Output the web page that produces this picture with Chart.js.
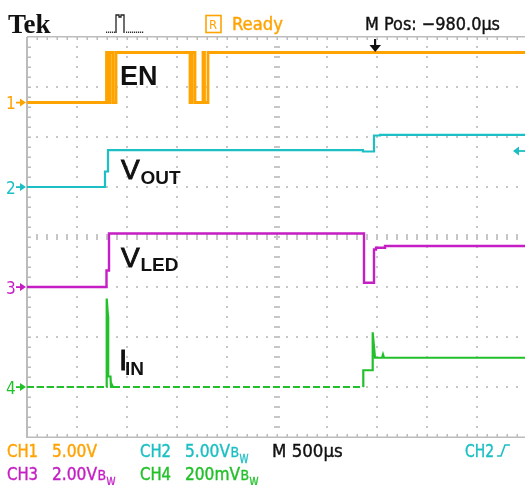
<!DOCTYPE html>
<html><head><meta charset="utf-8">
<script src="https://cdn.jsdelivr.net/npm/chart.js@4.4.1/dist/chart.umd.min.js"></script>
<style>html,body{margin:0;padding:0;background:#fff;overflow:hidden}</style>
</head><body>
<canvas id="c" width="525" height="485"></canvas>
<script>
// Time axis: ms from the left edge of the screen (500 µs/div, 10 div)
const ch1Time = [0, 0.795, 0.795, 0.815, 0.815, 0.83, 0.83, 0.86, 0.86, 0.89, 0.89, 1.63, 1.63, 1.65, 1.65, 1.68, 1.68, 1.76, 1.76, 1.775, 1.775, 1.81, 1.81, 4.98];
const ch1Volt = [0, 0, 5, 5, 0, 0, 5, 5, 0, 0, 5, 5, 0, 0, 5, 5, 0, 0, 5, 5, 0, 0, 5, 5];
const ch2Time = [0, 0.78, 0.78, 0.81, 0.81, 3.36, 3.36, 3.47, 3.47, 3.53, 3.53, 4.98];
const ch2Volt = [0, 0, 1.55, 1.55, 3.68, 3.68, 3.55, 3.55, 5.15, 5.15, 5.22, 5.22];
const ch3Time = [0, 0.795, 0.795, 0.82, 0.82, 3.37, 3.37, 3.47, 3.47, 3.49, 3.49, 3.58, 3.58, 4.98];
const ch3Volt = [0, 0, 0.66, 0.66, 2.14, 2.14, 0.17, 0.17, 1.5, 1.5, 1.57, 1.57, 1.64, 1.64];
const ch4Time = [0, 0.795, 0.797, 0.81, 0.812, 0.835, 0.84, 0.85, 0.86, 3.363, 3.363, 3.457, 3.457, 3.48, 3.55, 3.56, 3.57, 4.98];
const ch4MilliVolt = [0, 0, 354, 283, 42, 42, 0, 8, 0, 0, 67, 67, 219, 117, 117, 130, 117, 117];

const channelNames = ['CH1', 'CH2', 'CH3', 'CH4'];
const channelScaleText = ['5.00V', '5.00V', '2.00V', '200mV'];
const channelBandwidth = [false, true, true, true];
const traceLabels = [['EN', ''], ['V', 'OUT'], ['V', 'LED'], ['I', 'IN']];
const timebaseText = 'M 500\u00b5s';
const positionText = 'M Pos: \u2212980.0\u00b5s';
const statusText = 'Ready';

const COLORS = ['#ffa300', '#1cbfc3', '#c41ec4', '#22c02a'];

const zip = (t, v) => t.map((x, i) => ({x, y: v[i]}));

const NARROW = '"Liberation Sans Narrow", "DejaVu Sans Condensed", "Liberation Sans", sans-serif';
const SANS = '"Liberation Sans", Arial, sans-serif';

function txt(ctx, s, x, y, color, font, maxW, stroke) {
  ctx.font = font; ctx.fillStyle = color; ctx.textBaseline = 'alphabetic'; ctx.textAlign = 'left';
  if (maxW) ctx.fillText(s, x, y, maxW); else ctx.fillText(s, x, y);
  if (stroke) {
    ctx.strokeStyle = color; ctx.lineWidth = stroke;
    if (maxW) ctx.strokeText(s, x, y, maxW); else ctx.strokeText(s, x, y);
  }
}

const graticule = {
  id: 'graticule',
  beforeDatasetsDraw(chart) {
    const {ctx, chartArea: a, scales: {x, yDiv}} = chart;
    ctx.save();
    ctx.fillStyle = '#c6c6c6';
    const xp = d => x.getPixelForValue(d * 0.5);
    const yp = d => yDiv.getPixelForValue(d);
    for (let i = 1; i < 10; i++) {
      if (i === 5) continue;
      const px = Math.round(xp(i));
      for (let k = 1; k < 40; k++) ctx.fillRect(px - 1, Math.round(yp(-4 + k * 0.2)) - 1, 2, 2);
    }
    for (let j = -3; j <= 3; j++) {
      if (j === 0) continue;
      const py = Math.round(yp(j));
      for (let k = 1; k < 50; k++) ctx.fillRect(Math.round(xp(k * 0.2)) - 1, py - 1, 2, 2);
    }
    const cy = Math.round(yp(0));
    for (let k = 1; k < 50; k++) ctx.fillRect(Math.round(xp(k * 0.2)) - 1, cy - 3, 2, 6);
    const cx = Math.round(xp(5));
    for (let k = 1; k < 40; k++) ctx.fillRect(cx - 3, Math.round(yp(-4 + k * 0.2)) - 1, 6, 2);
    ctx.fillStyle = '#bcbcbc';
    ctx.fillRect(a.left - 1, a.top, 2, a.height + 1);
    ctx.fillRect(a.left, a.top - 1, a.width, 1.5);
    ctx.fillRect(a.left, a.bottom - 0.5, a.width, 1.5);
    for (let k = 1; k < 50; k++) {
      const px = Math.round(xp(k * 0.2));
      ctx.fillRect(px - 0.5, a.top, 1.5, 3);
      ctx.fillRect(px - 0.5, a.bottom - 3, 1.5, 3);
    }
    for (let k = 1; k < 40; k++) {
      const py = Math.round(yp(-4 + k * 0.2));
      ctx.fillRect(a.left, py - 0.5, 4, 1.5);
    }
    ctx.restore();
  }
};

const overlay = {
  id: 'overlay',
  afterDatasetsDraw(chart) {
    const {ctx, scales} = chart;
    ctx.save();
    txt(ctx, 'Tek', 8, 33, '#111', 'bold 27px "Liberation Serif", serif');
    ctx.strokeStyle = '#222'; ctx.lineWidth = 1.3;
    ctx.beginPath();
    ctx.moveTo(116, 33); ctx.lineTo(116, 15); ctx.lineTo(119, 15); ctx.lineTo(119, 17); ctx.lineTo(121, 17); ctx.lineTo(121, 15); ctx.lineTo(124, 15); ctx.lineTo(124, 33);
    ctx.stroke();
    ctx.fillStyle = '#333';
    for (let k = 106; k < 115; k += 2) ctx.fillRect(k, 31.5, 1.2, 1.5);
    for (let k = 126; k < 143; k += 2) ctx.fillRect(k, 31.5, 1.2, 1.5);
    ctx.strokeStyle = COLORS[0]; ctx.lineWidth = 1.6;
    ctx.strokeRect(206, 15.5, 15, 17);
    txt(ctx, 'R', 209, 29, COLORS[0], '13px ' + NARROW);
    txt(ctx, statusText, 232, 29.5, COLORS[0], '18.5px ' + NARROW, 51, 0.4);
    txt(ctx, positionText, 365, 29.5, '#111', '18.5px ' + NARROW, 135, 0.4);
    const tx = 375;
    ctx.fillStyle = '#111';
    ctx.fillRect(tx - 1, 39, 2.2, 8);
    ctx.beginPath(); ctx.moveTo(tx - 5.5, 45); ctx.lineTo(tx + 6, 45); ctx.lineTo(tx + 0.2, 52); ctx.closePath(); ctx.fill();

    ['y1', 'y2', 'y3', 'y4'].forEach((id, i) => {
      const py = scales[id].getPixelForValue(0);
      txt(ctx, String(i + 1), 6, py + 6.5, COLORS[i], '17px ' + NARROW);
      ctx.fillStyle = COLORS[i];
      ctx.fillRect(16, py - 0.8, 6, 1.8);
      ctx.beginPath(); ctx.moveTo(20, py - 4); ctx.lineTo(26, py); ctx.lineTo(20, py + 4); ctx.closePath(); ctx.fill();
    });
    {
      const py = scales.y2.getPixelForValue(3.6);
      ctx.fillStyle = COLORS[1];
      ctx.beginPath(); ctx.moveTo(513, py); ctx.lineTo(519, py - 4.5); ctx.lineTo(519, py + 4.5); ctx.closePath(); ctx.fill();
      ctx.fillRect(518, py - 0.9, 7, 1.8);
    }

    txt(ctx, traceLabels[0][0], 120, 85, '#111', 'bold 27px ' + SANS);
    const lbl = (i, baseMain, baseSub, xMain, xSub, sizeMain) => {
      txt(ctx, traceLabels[i][0], xMain, baseMain, '#111', sizeMain + 'px ' + SANS, 0, 0.9);
      txt(ctx, traceLabels[i][1], xSub, baseSub, '#111', 'bold 19px ' + SANS);
    };
    lbl(1, 178.5, 183.5, 121, 140.5, 28);
    lbl(2, 267, 270.5, 121, 140.5, 28);
    lbl(3, 370, 375, 119, 125, 30);

    const rows = [457, 480];
    const colX = [[7, 52], [140, 185], [7, 52], [140, 185]];
    const scaleW = [45, 45, 45, 55];
    for (let i = 0; i < 4; i++) {
      const base = rows[i < 2 ? 0 : 1];
      txt(ctx, channelNames[i], colX[i][0], base, COLORS[i], '18.5px ' + NARROW, 31, 0.4);
      txt(ctx, channelScaleText[i], colX[i][1], base, COLORS[i], '18.5px ' + NARROW, scaleW[i], 0.4);
      if (channelBandwidth[i]) {
        const bx = colX[i][1] + scaleW[i] + 0.5;
        txt(ctx, 'B', bx, base, COLORS[i], '14px ' + NARROW, 9, 0.3);
        txt(ctx, 'W', bx + 9, base + 6, COLORS[i], '12px ' + NARROW, 9, 0.3);
      }
    }
    txt(ctx, timebaseText, 272, 457, '#111', '18.5px ' + NARROW, 73, 0.4);
    txt(ctx, channelNames[1], 465, 457, COLORS[1], '18.5px ' + NARROW, 29, 0.4);
    ctx.strokeStyle = COLORS[1]; ctx.lineWidth = 1.6;
    ctx.beginPath(); ctx.moveTo(497, 456); ctx.lineTo(501, 456); ctx.lineTo(505, 445); ctx.lineTo(510, 445); ctx.stroke();
    ctx.restore();
  }
};

const groundDash = c => (c.p0.parsed.y === 0 && c.p1.parsed.y === 0) ? [7, 3] : undefined;

new Chart(document.getElementById('c'), {
  type: 'line',
  data: {
    datasets: [
      {label: 'EN (CH1)', data: zip(ch1Time, ch1Volt), yAxisID: 'y1', borderColor: COLORS[0], borderWidth: 2.8},
      {label: 'VOUT (CH2)', data: zip(ch2Time, ch2Volt), yAxisID: 'y2', borderColor: COLORS[1], borderWidth: 2.2},
      {label: 'VLED (CH3)', data: zip(ch3Time, ch3Volt), yAxisID: 'y3', borderColor: COLORS[2], borderWidth: 2.4},
      {label: 'IIN (CH4)', data: zip(ch4Time, ch4MilliVolt), yAxisID: 'y4', borderColor: COLORS[3], borderWidth: 2.2, segment: {borderDash: groundDash}}
    ]
  },
  options: {
    responsive: false,
    animation: false,
    events: [],
    layout: {padding: {left: 27, top: 37, right: 0, bottom: 48}},
    plugins: {legend: {display: false}, tooltip: {enabled: false}},
    elements: {point: {radius: 0}, line: {tension: 0, fill: false, borderJoinStyle: 'miter', borderCapStyle: 'butt'}},
    scales: {
      x: {type: 'linear', min: 0, max: 4.98, display: false},
      yDiv: {type: 'linear', min: -4, max: 4, display: false},
      y1: {type: 'linear', min: -33.45, max: 6.55, display: false},
      y2: {type: 'linear', min: -25, max: 15, display: false},
      y3: {type: 'linear', min: -6, max: 10, display: false},
      y4: {type: 'linear', min: -200, max: 1400, display: false}
    }
  },
  plugins: [graticule, overlay]
});
</script>
</body></html>
